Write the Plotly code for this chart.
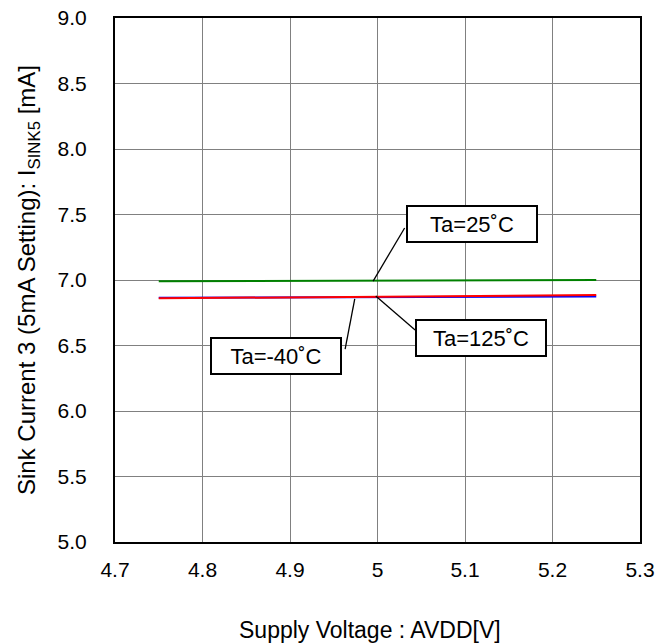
import plotly.graph_objects as go

voltage = [4.75, 5.0, 5.25]
i_m40 = [6.865, 6.870, 6.875]
i_25 = [6.990, 6.995, 7.000]
i_125 = [6.860, 6.873, 6.885]

x_ticks = [4.7, 4.8, 4.9, 5.0, 5.1, 5.2, 5.3]
x_tick_text = ["4.7", "4.8", "4.9", "5", "5.1", "5.2", "5.3"]
y_ticks = [5.0, 5.5, 6.0, 6.5, 7.0, 7.5, 8.0, 8.5, 9.0]

labels = ["Ta=25˚C", "Ta=125˚C", "Ta=-40˚C"]
label_pos = [(5.108, 7.427), (5.118, 6.557), (4.884, 6.420)]
leaders = [((5.031, 7.397), (4.995, 6.992)),
           ((5.043, 6.618), (4.998, 6.878)),
           ((4.963, 6.473), (4.974, 6.855))]

x_title = "Supply Voltage : AVDD[V]"
y_title = "Sink Current 3 (5mA Setting): I<sub>SINK5</sub> [mA]"

FONT = "Arial, Liberation Sans, sans-serif"

fig = go.Figure()
fig.add_trace(go.Scatter(x=voltage, y=i_m40, mode="lines", line=dict(color="#0000ff", width=2), name="-40"))
fig.add_trace(go.Scatter(x=voltage, y=i_25, mode="lines", line=dict(color="#008000", width=2), name="25"))
fig.add_trace(go.Scatter(x=voltage, y=i_125, mode="lines", line=dict(color="#ff0000", width=2), name="125"))

for (p0, p1) in leaders:
    fig.add_shape(type="line", x0=p0[0], y0=p0[1], x1=p1[0], y1=p1[1],
                  line=dict(color="black", width=1.3), xref="x", yref="y")

for txt, (ax, ay) in zip(labels, label_pos):
    fig.add_annotation(x=ax, y=ay, text=txt, showarrow=False,
                       font=dict(family=FONT, size=22, color="black"),
                       bgcolor="white", bordercolor="black", borderwidth=2,
                       width=128, height=34, borderpad=0)

fig.add_annotation(x=0.486, y=-0.168, xref="paper", yref="paper", text=x_title,
                   showarrow=False, xanchor="center", yanchor="middle",
                   font=dict(family=FONT, size=23, color="black"))

fig.update_layout(
    width=672, height=643,
    margin=dict(l=115, r=32, t=18, b=101, autoexpand=False),
    paper_bgcolor="white", plot_bgcolor="white",
    showlegend=False,
    font=dict(family=FONT, size=21, color="black"),
    xaxis=dict(range=[4.7, 5.3], tickvals=x_ticks, ticktext=x_tick_text,
               showgrid=True, gridcolor="#808080", gridwidth=1,
               showline=True, linecolor="black", linewidth=2, mirror=True,
               ticks="", ticklabelstandoff=8, zeroline=False, automargin=False,
               ticklabeloverflow="allow",
               tickfont=dict(size=21)),
    yaxis=dict(range=[5.0, 9.0], tickvals=y_ticks, tickformat=".1f",
               showgrid=True, gridcolor="#808080", gridwidth=1,
               showline=True, linecolor="black", linewidth=2, mirror=True,
               ticks="", ticklabelstandoff=22, zeroline=False, automargin=False,
               ticklabeloverflow="allow",
               tickfont=dict(size=21),
               title=dict(text=y_title, font=dict(size=24))),
)

fig.write_html("out.html",
               config={"displayModeBar": False},
               post_script="document.body.style.margin='0';document.body.style.overflow='hidden';")
